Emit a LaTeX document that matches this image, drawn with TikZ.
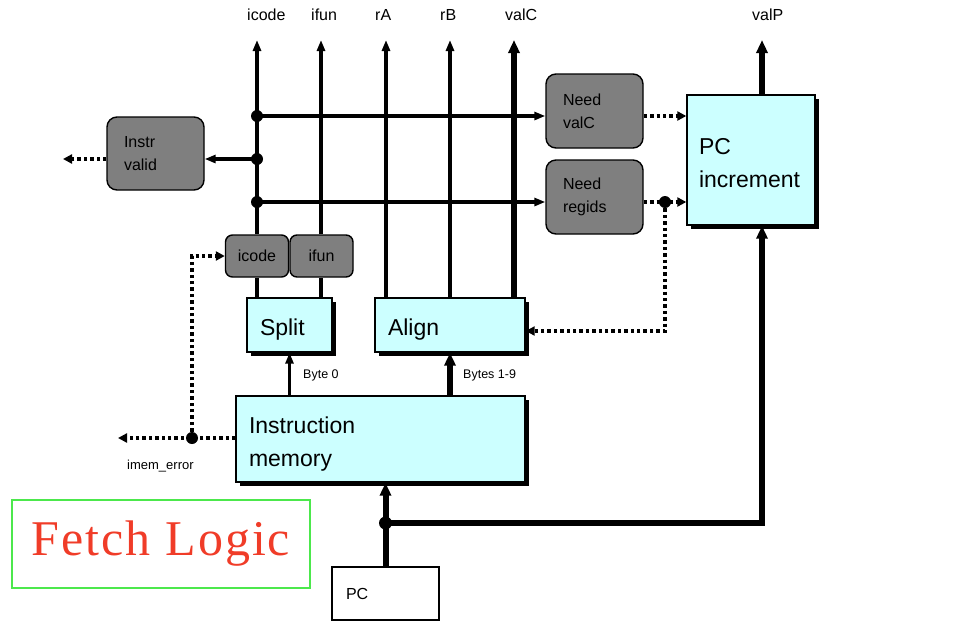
\documentclass[tikz,border=0pt]{standalone}
\usepackage{fontspec}
\setmainfont{Liberation Sans}
\newfontfamily\fetchfont[LetterSpace=4]{Liberation Serif}
\usetikzlibrary{arrows.meta,shadows,calc}
\definecolor{cyanfill}{HTML}{CCFFFF}
\definecolor{grayfill}{HTML}{7F7F7F}
\definecolor{fetchred}{HTML}{F03C28}
\definecolor{fetchgreen}{HTML}{4CE84C}
\newcommand\tallstrut[1]{\rule{0pt}{#1}}
\begin{document}
\begin{tikzpicture}[x=1pt,y=-1pt,
  wire/.style={line width=3.2pt},
  bus/.style={line width=6pt},
  arr/.style={wire,-{Triangle[length=11pt,width=8pt]}},
  barr/.style={bus,-{Triangle[length=13pt,width=11pt]}},
  darr/.style={line width=3.4pt,dash pattern=on 3.4pt off 3pt,-{Triangle[length=9pt,width=9pt]}},
  gbox/.style={draw=black,line width=1.4pt,fill=grayfill,rounded corners=10pt,align=left,
    inner xsep=17pt,inner ysep=0pt,font=\fontsize{16}{23}\selectfont},
  cbox/.style={draw=black,line width=1.4pt,fill=cyanfill,
    drop shadow={shadow xshift=4pt,shadow yshift=-4pt,fill=black,opacity=1},
    align=left,inner xsep=13pt,inner ysep=0pt,font=\fontsize{23}{33}\selectfont},
  lab/.style={inner sep=0pt,anchor=west,font=\fontsize{16}{19}\selectfont},
  slab/.style={inner sep=0pt,anchor=west,font=\fontsize{12.5}{15}\selectfont},
  dot/.style={fill=black}]
\useasboundingbox (0,0) rectangle (966,622);

% nodes
\node[gbox,text width=63pt,minimum width=97pt,minimum height=73pt] (iv) at (155.5,153.5) {Instr\\valid};
\node[gbox,text width=63pt,minimum width=97pt,minimum height=74pt] (nv) at (594.5,111) {Need\\valC};
\node[gbox,text width=63pt,minimum width=97pt,minimum height=74pt] (nr) at (594.5,197) {Need\\regids};
\node[cbox,text width=104pt,inner xsep=12pt,minimum height=130pt] (pci) at (751,160) {\tallstrut{21.5pt}PC\\increment};
\node[gbox,rounded corners=7pt,inner xsep=0pt,align=center,text width=63pt,minimum height=42pt] (ic) at (257,256) {icode};
\node[gbox,rounded corners=7pt,inner xsep=0pt,align=center,text width=63pt,minimum height=42pt] (if) at (321.5,256) {ifun};
\node[cbox,text width=59pt,minimum height=54pt] (sp) at (289.5,325) {\tallstrut{26.5pt}Split};
\node[cbox,text width=124pt,minimum height=54pt] (al) at (450,325) {\tallstrut{26.5pt}Align};
\node[cbox,text width=263pt,minimum height=86pt] (im) at (380.5,439) {\tallstrut{26pt}Instruction\\memory};
\node[draw=black,line width=1.4pt,fill=white,align=left,text width=79pt,inner xsep=14pt,
  inner ysep=0pt,minimum height=53pt,font=\fontsize{16}{19}\selectfont] (pc) at (385.5,593.5) {PC};
\node[draw=fetchgreen,line width=2pt,minimum width=298pt,minimum height=88pt,inner sep=0pt,
  text=fetchred,font=\fetchfont\fontsize{50}{50}\selectfont] (fl) at (161,544) {Fetch Logic};

% top coordinates and labels
\coordinate (ticode) at (257,40);
\coordinate (tifun) at (321,40);
\coordinate (tra) at (386,40);
\coordinate (trb) at (450,40);
\coordinate (tvalc) at (514,40);
\coordinate (tvalp) at (762,40);
\node[lab] (licode) at (247,15) {icode};
\node[lab] (lifun) at (311,15) {ifun};
\node[lab] (lra) at (375,15) {rA};
\node[lab] (lrb) at (440,15) {rB};
\node[lab] (lvalc) at (505,15) {valC};
\node[lab] (lvalp) at (752,15) {valP};

% vertical outputs
\draw[arr] (ticode |- ic.north) -- (ticode);
\draw[wire] (ticode |- sp.north) -- (ticode |- ic.south);
\draw[arr] (tifun |- if.north) -- (tifun);
\draw[wire] (tifun |- sp.north) -- (tifun |- if.south);
\draw[arr] (tra |- al.north) -- (tra);
\draw[arr] (trb |- al.north) -- (trb);
\draw[barr] (tvalc |- al.north) -- (tvalc);
\draw[barr] (tvalp |- pci.north) -- (tvalp);

% icode taps
\coordinate (j1) at (257,116);
\coordinate (j2) at (257,159);
\coordinate (j3) at (257,202);
\draw[arr] (j1) -- (j1 -| nv.west);
\draw[arr] (j2) -- (j2 -| iv.east);
\draw[arr] (j3) -- (j3 -| nr.west);
\fill[dot] (j1) circle[radius=6];
\fill[dot] (j2) circle[radius=6];
\fill[dot] (j3) circle[radius=6];

% dotted control signals
\coordinate (ivout) at (63,159);
\draw[darr] (j2 -| iv.west) -- (ivout);
\draw[darr] (j1 -| nv.east) -- (j1 -| pci.west);
\draw[darr] (j3 -| nr.east) -- (j3 -| pci.west);
\coordinate (d1) at (665,202);
\draw[darr] (d1) |- ($(al.east)+(0,6)$);
\fill[dot] (d1) circle[radius=6];

% imem_error
\coordinate (d2) at (192,438);
\coordinate (imo) at (118,438);
\draw[darr] (d2 -| im.west) -- (imo);
\draw[darr] (d2) |- (ic.west);
\fill[dot] (d2) circle[radius=6];
\node[slab,font=\fontsize{13}{15}\selectfont] (lerr) at (127,466) {imem\_error};

% memory to split/align
\draw[arr] (sp.south |- im.north) -- (sp.south);
\draw[barr] (al.south |- im.north) -- (al.south);
\node[slab] (lb0) at (303,375) {Byte 0};
\node[slab] (lb19) at (463,375) {Bytes 1-9};

% PC bus
\coordinate (d3) at (385.5,523);
\draw[barr] (pc.north) -- (pc.north |- im.south);
\draw[barr] (d3) -| (tvalp |- pci.south);
\fill[dot] (d3) circle[radius=6.5];
\end{tikzpicture}
\end{document}
